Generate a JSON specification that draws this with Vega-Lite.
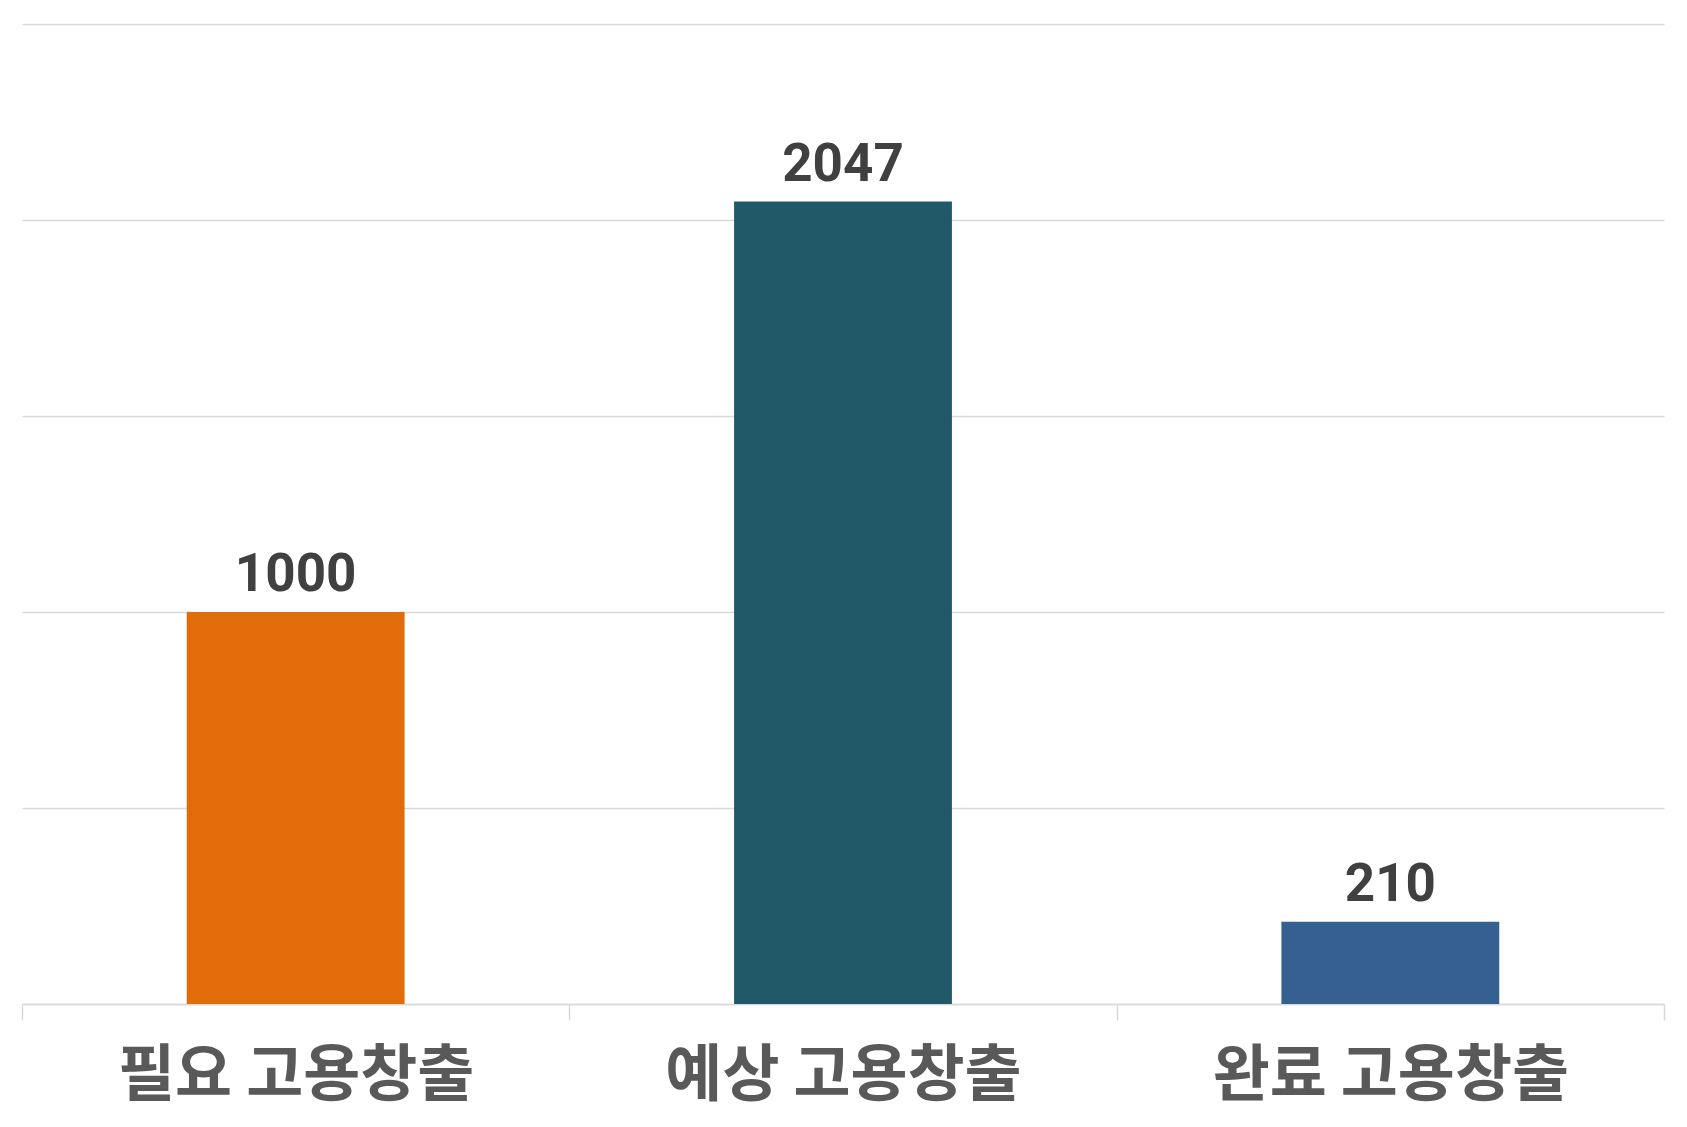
{
  "$schema": "https://vega.github.io/schema/vega-lite/v6.json",
  "width": 1642,
  "height": 980,
  "autosize": "none",
  "padding": {"left": 22, "top": 24, "right": 23, "bottom": 123},
  "background": "#ffffff",
  "config": {"view": {"stroke": null}},
  "data": {"values": [
    {"category": "필요 고용창출", "value": 1000, "color": "#E36C0A"},
    {"category": "예상 고용창출", "value": 2047, "color": "#215968"},
    {"category": "완료 고용창출", "value": 210, "color": "#376092"}
  ]},
  "encoding": {
    "x": {
      "field": "category", "type": "nominal", "sort": null,
      "scale": {"paddingInner": 0, "paddingOuter": 0},
      "axis": {
        "title": null, "labelAngle": 0, "domainColor": "#d9d9d9", "domainWidth": 1.5,
        "tickColor": "#d9d9d9", "tickWidth": 1.5, "tickSize": 16, "tickBand": "extent",
        "labelFont": "Noto Sans CJK KR", "labelFontWeight": "bold", "labelFontSize": 62,
        "labelLimit": 0, "labelColor": "#595959", "labelBaseline": "alphabetic", "labelPadding": 75
      }
    },
    "y": {
      "field": "value", "type": "quantitative",
      "scale": {"domain": [0, 2500]},
      "axis": {
        "title": null, "labels": false, "ticks": false, "domain": false,
        "values": [0, 500, 1000, 1500, 2000, 2500],
        "gridColor": "#d9d9d9", "gridWidth": 1.5
      }
    }
  },
  "layer": [
    {
      "mark": {"type": "bar", "width": {"band": 0.398}},
      "encoding": {"color": {"field": "color", "type": "nominal", "scale": null, "legend": null}}
    },
    {
      "mark": {"type": "text", "baseline": "alphabetic", "dy": -21, "font": "Roboto", "fontWeight": "bold", "fontSize": 53, "fill": "#404040"},
      "encoding": {"text": {"field": "value", "type": "quantitative", "format": "d"}}
    }
  ]
}
